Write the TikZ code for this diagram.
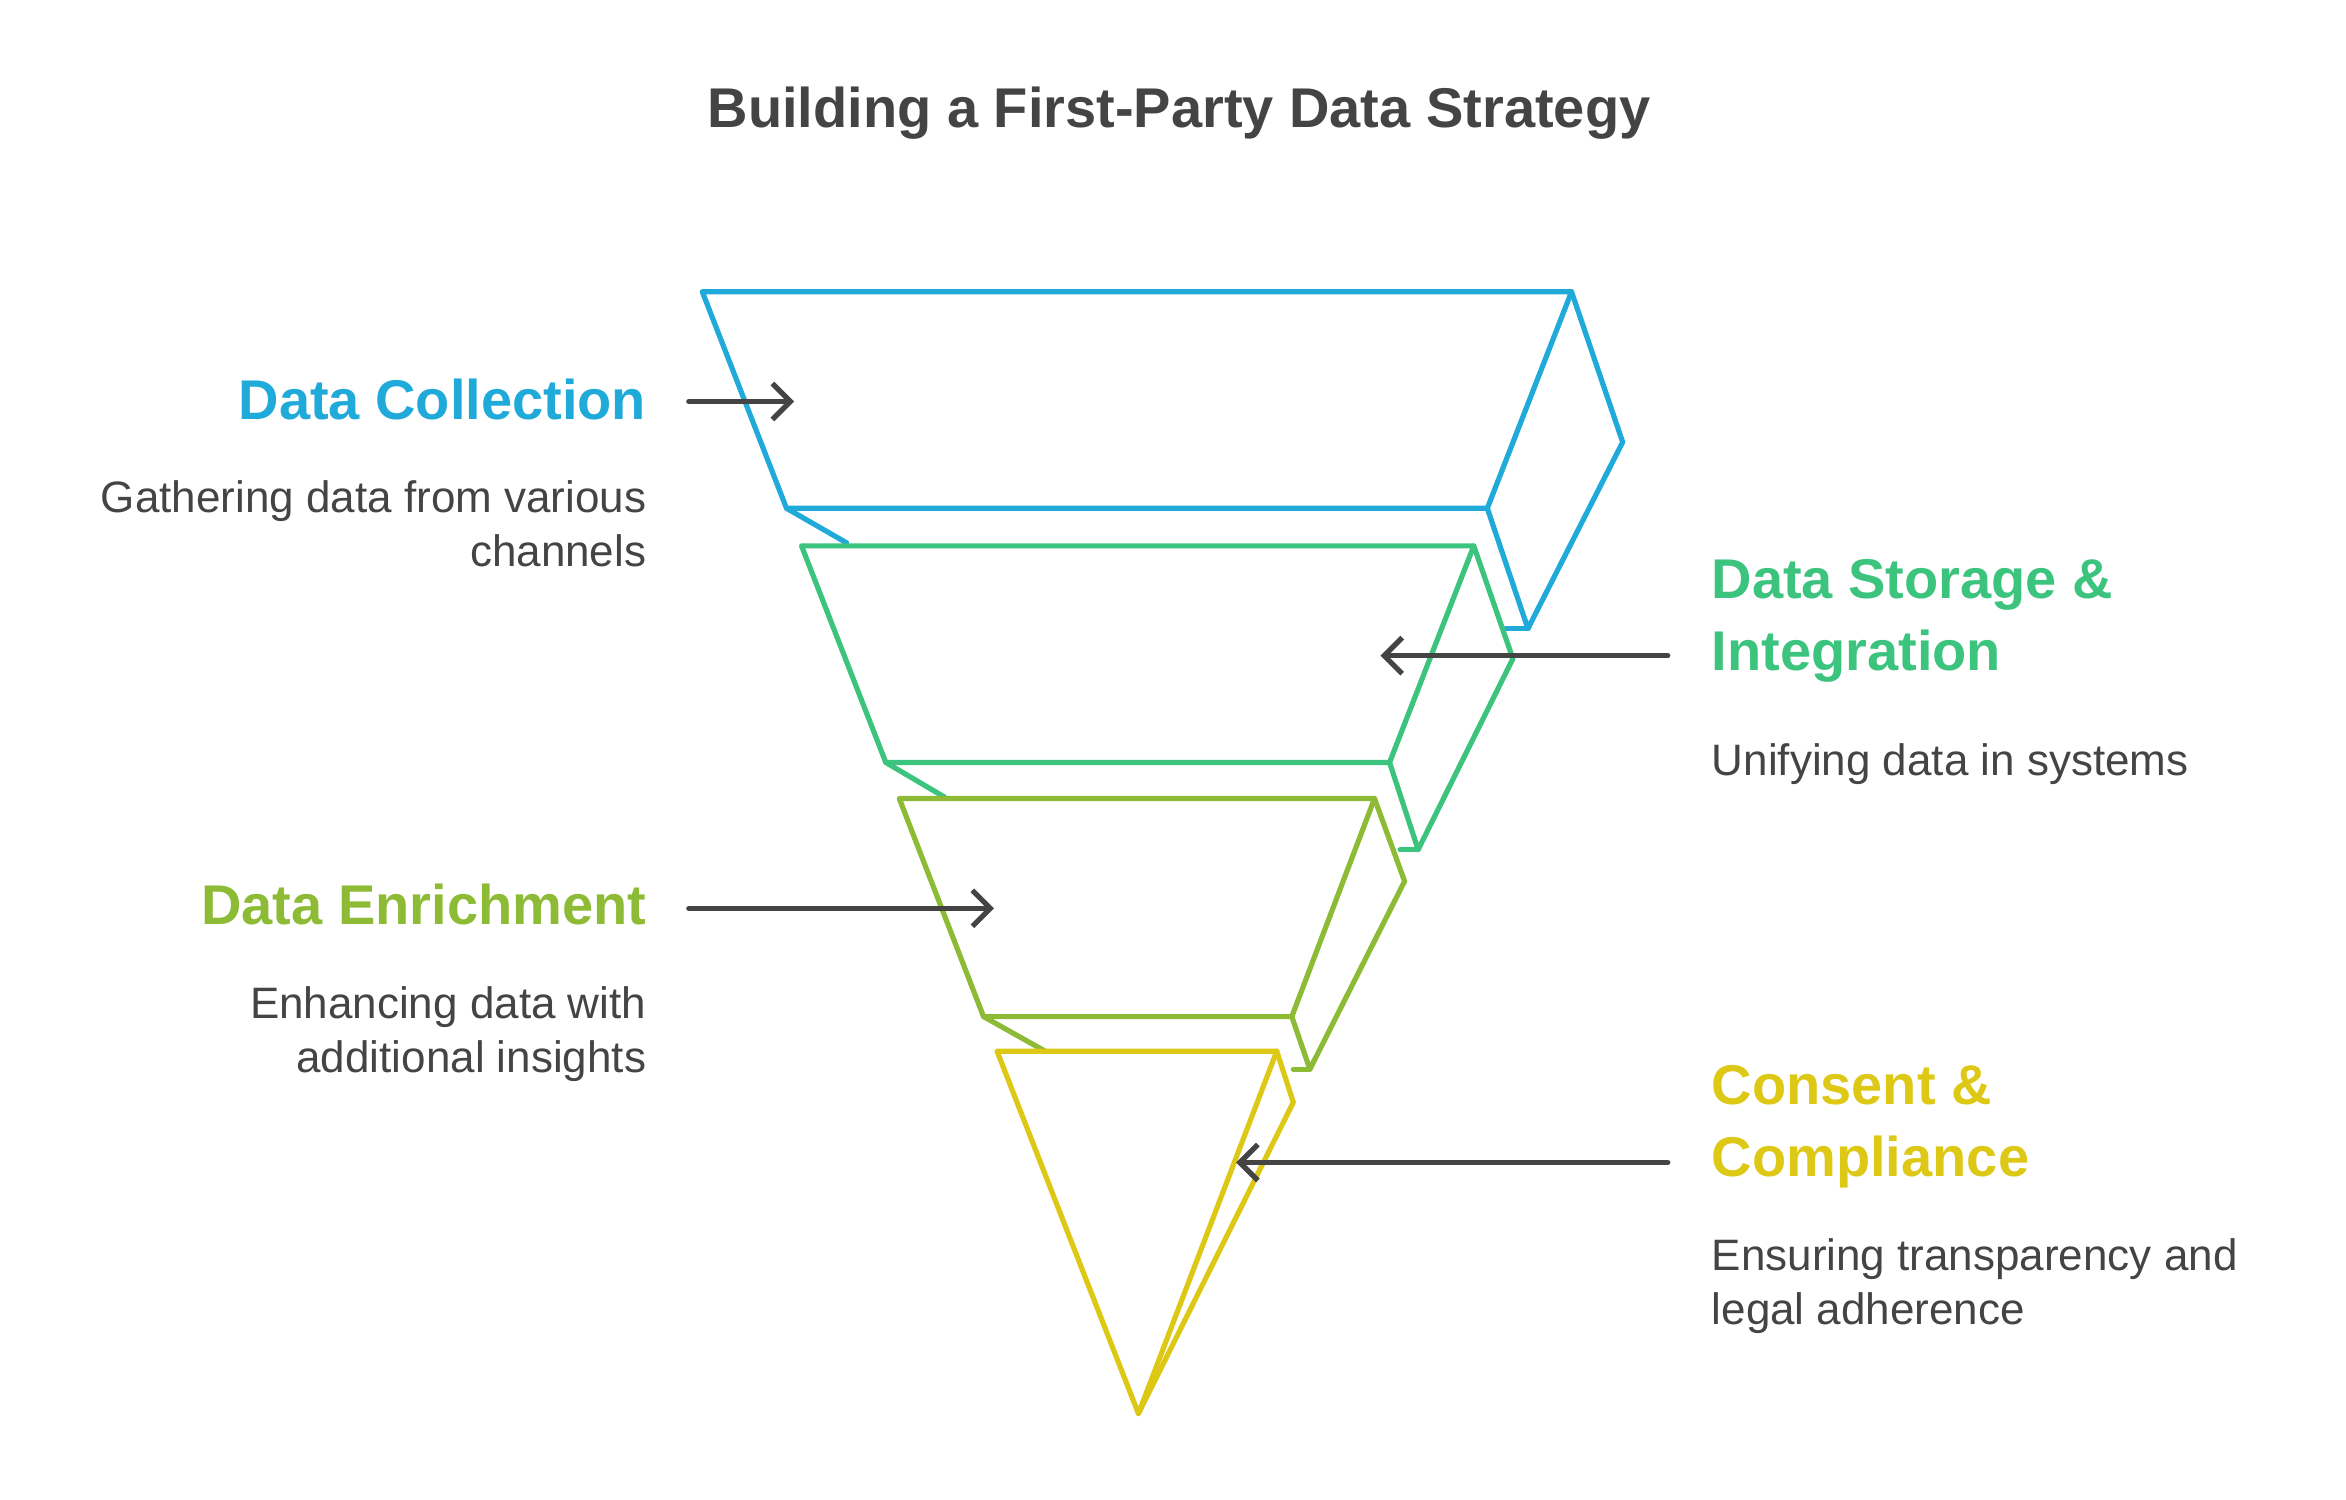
\documentclass[tikz,border=0pt]{standalone}
\usepackage{fontspec}
\setmainfont{Liberation Sans}
\definecolor{dcblue}{HTML}{1FAAD9}
\definecolor{dsgreen}{HTML}{3CC47F}
\definecolor{delime}{HTML}{8DBB35}
\definecolor{ccyellow}{HTML}{DEC816}
\definecolor{txgray}{HTML}{444444}
\usetikzlibrary{arrows.meta,positioning}

\tikzset{
  layer/.style={line width=2.6pt, line join=round, line cap=round},
  pointer/.style={-{Straight Barb[length=9pt,width=18pt]}, line width=2.6pt, txgray, line cap=round},
  head/.style={font=\fontsize{28}{36}\selectfont\bfseries, inner sep=0pt},
  desc/.style={font=\fontsize{22}{27}\selectfont, text=txgray, inner sep=0pt}
}

\begin{document}
\begin{tikzpicture}[x=0.752pt, y=-0.752pt]
  \useasboundingbox (0,0) rectangle (1560,997);

  % Title
  \node[font=\fontsize{28}{32}\selectfont\bfseries, text=txgray] (title) at (784,75) {Building a First-Party Data Strategy};

  % Data Collection layer
  \draw[layer, dcblue] (467,194) -- (1045,194) -- (989,338) -- (523,338) -- cycle;
  \draw[layer, dcblue] (1045,194) -- (1079,294) -- (1016,418) -- (989,338);
  \draw[layer, dcblue] (1001,418) -- (1016,418);
  \draw[layer, dcblue] (523,338) -- (563,361);

  % Data Storage layer
  \draw[layer, dsgreen] (533,363) -- (980,363) -- (924,507) -- (589,507) -- cycle;
  \draw[layer, dsgreen] (980,363) -- (1006,438) -- (943,565) -- (924,507);
  \draw[layer, dsgreen] (931,565) -- (943,565);
  \draw[layer, dsgreen] (589,507) -- (628,530);

  % Data Enrichment layer
  \draw[layer, delime] (598,531) -- (914,531) -- (859,676) -- (654,676) -- cycle;
  \draw[layer, delime] (914,531) -- (934,586) -- (871,711) -- (859,676);
  \draw[layer, delime] (860,711) -- (871,711);
  \draw[layer, delime] (654,676) -- (695,699);

  % Consent layer
  \draw[layer, ccyellow] (663,699) -- (849,699) -- (757,940) -- cycle;
  \draw[layer, ccyellow] (849,699) -- (860,733) -- (757,940);

  % Labels
  \node[head, text=dcblue, anchor=base east] (collect) at (430,279) {Data Collection};
  \node[desc, anchor=base east, align=right] (collectdesc) at (430,377) {Gathering data from various\\channels};

  \node[head, text=dsgreen, anchor=base west, align=left] (storage) at (1138,446) {Data Storage \&\\Integration};
  \node[desc, anchor=base west] (storagedesc) at (1138,516) {Unifying data in systems};

  \node[head, text=delime, anchor=base east] (enrich) at (430,615) {Data Enrichment};
  \node[desc, anchor=base east, align=right] (enrichdesc) at (430,713) {Enhancing data with\\additional insights};

  \node[head, text=ccyellow, anchor=base west, align=left] (consent) at (1138,782) {Consent \&\\Compliance};
  \node[desc, anchor=base west, align=left] (consentdesc) at (1138,881) {Ensuring transparency and\\legal adherence};

  % Pointers
  \coordinate (collectfrom) at (458,267);
  \coordinate (collecttip) at (528,267);
  \coordinate (storagefrom) at (1109,436);
  \coordinate (storagetip) at (918,436);
  \coordinate (enrichfrom) at (458,604);
  \coordinate (enrichtip) at (661,604);
  \coordinate (consentfrom) at (1109,773);
  \coordinate (consenttip) at (822,773);
  \draw[pointer] (collectfrom) -- (collecttip);
  \draw[pointer] (storagefrom) -- (storagetip);
  \draw[pointer] (enrichfrom) -- (enrichtip);
  \draw[pointer] (consentfrom) -- (consenttip);
\end{tikzpicture}
\end{document}
